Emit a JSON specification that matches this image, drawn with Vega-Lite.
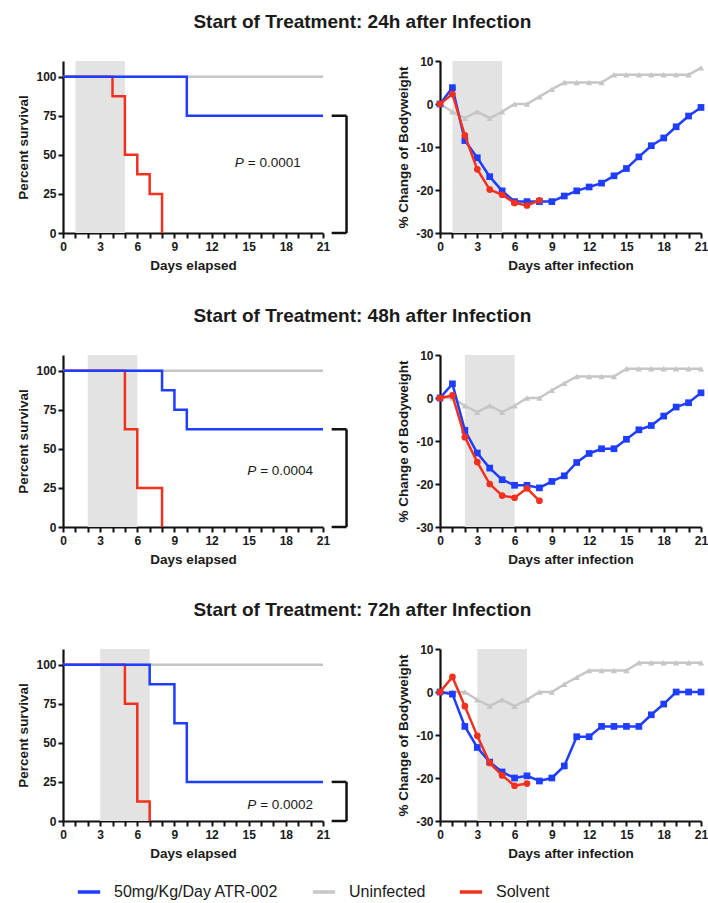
{
  "$schema": "https://vega.github.io/schema/vega-lite/v6.json",
  "padding": {"left": 16, "top": 13, "right": 2, "bottom": 5},
  "spacing": 35,
  "datasets": {
    "shade": [
      {"r": "24h", "s": 1, "e": 5},
      {"r": "48h", "s": 2, "e": 6},
      {"r": "72h", "s": 3, "e": 7}
    ],
    "brk": [
      {"r": "24h", "x": 21.7, "x2": 22.9, "y": 75, "y2": 75},
      {"r": "24h", "x": 21.7, "x2": 22.9, "y": 0, "y2": 0},
      {"r": "24h", "x": 22.9, "x2": 22.9, "y": 75, "y2": 0},
      {"r": "48h", "x": 21.7, "x2": 22.9, "y": 62.5, "y2": 62.5},
      {"r": "48h", "x": 21.7, "x2": 22.9, "y": 0, "y2": 0},
      {"r": "48h", "x": 22.9, "x2": 22.9, "y": 62.5, "y2": 0},
      {"r": "72h", "x": 21.7, "x2": 22.9, "y": 25, "y2": 25},
      {"r": "72h", "x": 21.7, "x2": 22.9, "y": 0, "y2": 0},
      {"r": "72h", "x": 22.9, "x2": 22.9, "y": 25, "y2": 0}
    ],
    "ptxt": [
      {"r": "24h", "x": 14.6, "y": 45, "t": "= 0.0001"},
      {"r": "48h", "x": 15.6, "y": 36, "t": "= 0.0004"},
      {"r": "72h", "x": 15.6, "y": 10.3, "t": "= 0.0002"}
    ],
    "surv": [
      {"r": "24h", "g": "Uninfected", "d": 0, "v": 100},
      {"r": "24h", "g": "Uninfected", "d": 21, "v": 100},
      {"r": "24h", "g": "50mg/Kg/Day ATR-002", "d": 0, "v": 100},
      {"r": "24h", "g": "50mg/Kg/Day ATR-002", "d": 10, "v": 75},
      {"r": "24h", "g": "50mg/Kg/Day ATR-002", "d": 21, "v": 75},
      {"r": "24h", "g": "Solvent", "d": 0, "v": 100},
      {"r": "24h", "g": "Solvent", "d": 4, "v": 87.5},
      {"r": "24h", "g": "Solvent", "d": 5, "v": 50},
      {"r": "24h", "g": "Solvent", "d": 6, "v": 37.5},
      {"r": "24h", "g": "Solvent", "d": 7, "v": 25},
      {"r": "24h", "g": "Solvent", "d": 8, "v": 0},
      {"r": "48h", "g": "Uninfected", "d": 0, "v": 100},
      {"r": "48h", "g": "Uninfected", "d": 21, "v": 100},
      {"r": "48h", "g": "50mg/Kg/Day ATR-002", "d": 0, "v": 100},
      {"r": "48h", "g": "50mg/Kg/Day ATR-002", "d": 8, "v": 87.5},
      {"r": "48h", "g": "50mg/Kg/Day ATR-002", "d": 9, "v": 75},
      {"r": "48h", "g": "50mg/Kg/Day ATR-002", "d": 10, "v": 62.5},
      {"r": "48h", "g": "50mg/Kg/Day ATR-002", "d": 21, "v": 62.5},
      {"r": "48h", "g": "Solvent", "d": 0, "v": 100},
      {"r": "48h", "g": "Solvent", "d": 5, "v": 62.5},
      {"r": "48h", "g": "Solvent", "d": 6, "v": 25},
      {"r": "48h", "g": "Solvent", "d": 8, "v": 0},
      {"r": "72h", "g": "Uninfected", "d": 0, "v": 100},
      {"r": "72h", "g": "Uninfected", "d": 21, "v": 100},
      {"r": "72h", "g": "50mg/Kg/Day ATR-002", "d": 0, "v": 100},
      {"r": "72h", "g": "50mg/Kg/Day ATR-002", "d": 7, "v": 87.5},
      {"r": "72h", "g": "50mg/Kg/Day ATR-002", "d": 9, "v": 62.5},
      {"r": "72h", "g": "50mg/Kg/Day ATR-002", "d": 10, "v": 25},
      {"r": "72h", "g": "50mg/Kg/Day ATR-002", "d": 21, "v": 25},
      {"r": "72h", "g": "Solvent", "d": 0, "v": 100},
      {"r": "72h", "g": "Solvent", "d": 5, "v": 75},
      {"r": "72h", "g": "Solvent", "d": 6, "v": 12.5},
      {"r": "72h", "g": "Solvent", "d": 7, "v": 0}
    ],
    "wt": [
      {"r": "24h", "g": "Uninfected", "d": 0, "v": 0},
      {"r": "24h", "g": "Uninfected", "d": 1, "v": -1.8},
      {"r": "24h", "g": "Uninfected", "d": 2, "v": -3.3},
      {"r": "24h", "g": "Uninfected", "d": 3, "v": -1.8},
      {"r": "24h", "g": "Uninfected", "d": 4, "v": -3.3},
      {"r": "24h", "g": "Uninfected", "d": 5, "v": -1.8},
      {"r": "24h", "g": "Uninfected", "d": 6, "v": 0},
      {"r": "24h", "g": "Uninfected", "d": 7, "v": 0},
      {"r": "24h", "g": "Uninfected", "d": 8, "v": 1.7},
      {"r": "24h", "g": "Uninfected", "d": 9, "v": 3.4},
      {"r": "24h", "g": "Uninfected", "d": 10, "v": 5},
      {"r": "24h", "g": "Uninfected", "d": 11, "v": 5},
      {"r": "24h", "g": "Uninfected", "d": 12, "v": 5},
      {"r": "24h", "g": "Uninfected", "d": 13, "v": 5},
      {"r": "24h", "g": "Uninfected", "d": 14, "v": 6.8},
      {"r": "24h", "g": "Uninfected", "d": 15, "v": 6.8},
      {"r": "24h", "g": "Uninfected", "d": 16, "v": 6.8},
      {"r": "24h", "g": "Uninfected", "d": 17, "v": 6.8},
      {"r": "24h", "g": "Uninfected", "d": 18, "v": 6.8},
      {"r": "24h", "g": "Uninfected", "d": 19, "v": 6.8},
      {"r": "24h", "g": "Uninfected", "d": 20, "v": 6.8},
      {"r": "24h", "g": "Uninfected", "d": 21, "v": 8.4},
      {"r": "24h", "g": "50mg/Kg/Day ATR-002", "d": 0, "v": 0},
      {"r": "24h", "g": "50mg/Kg/Day ATR-002", "d": 1, "v": 3.8},
      {"r": "24h", "g": "50mg/Kg/Day ATR-002", "d": 2, "v": -8.5},
      {"r": "24h", "g": "50mg/Kg/Day ATR-002", "d": 3, "v": -12.5},
      {"r": "24h", "g": "50mg/Kg/Day ATR-002", "d": 4, "v": -16.9},
      {"r": "24h", "g": "50mg/Kg/Day ATR-002", "d": 5, "v": -20.2},
      {"r": "24h", "g": "50mg/Kg/Day ATR-002", "d": 6, "v": -22.7},
      {"r": "24h", "g": "50mg/Kg/Day ATR-002", "d": 7, "v": -22.7},
      {"r": "24h", "g": "50mg/Kg/Day ATR-002", "d": 8, "v": -22.7},
      {"r": "24h", "g": "50mg/Kg/Day ATR-002", "d": 9, "v": -22.7},
      {"r": "24h", "g": "50mg/Kg/Day ATR-002", "d": 10, "v": -21.4},
      {"r": "24h", "g": "50mg/Kg/Day ATR-002", "d": 11, "v": -20.2},
      {"r": "24h", "g": "50mg/Kg/Day ATR-002", "d": 12, "v": -19.3},
      {"r": "24h", "g": "50mg/Kg/Day ATR-002", "d": 13, "v": -18.4},
      {"r": "24h", "g": "50mg/Kg/Day ATR-002", "d": 14, "v": -16.7},
      {"r": "24h", "g": "50mg/Kg/Day ATR-002", "d": 15, "v": -15},
      {"r": "24h", "g": "50mg/Kg/Day ATR-002", "d": 16, "v": -12.3},
      {"r": "24h", "g": "50mg/Kg/Day ATR-002", "d": 17, "v": -9.7},
      {"r": "24h", "g": "50mg/Kg/Day ATR-002", "d": 18, "v": -7.9},
      {"r": "24h", "g": "50mg/Kg/Day ATR-002", "d": 19, "v": -5.3},
      {"r": "24h", "g": "50mg/Kg/Day ATR-002", "d": 20, "v": -2.8},
      {"r": "24h", "g": "50mg/Kg/Day ATR-002", "d": 21, "v": -0.8},
      {"r": "24h", "g": "Solvent", "d": 0, "v": 0},
      {"r": "24h", "g": "Solvent", "d": 1, "v": 2.3},
      {"r": "24h", "g": "Solvent", "d": 2, "v": -7.3},
      {"r": "24h", "g": "Solvent", "d": 3, "v": -15.2},
      {"r": "24h", "g": "Solvent", "d": 4, "v": -19.9},
      {"r": "24h", "g": "Solvent", "d": 5, "v": -21.1},
      {"r": "24h", "g": "Solvent", "d": 6, "v": -23},
      {"r": "24h", "g": "Solvent", "d": 7, "v": -23.6},
      {"r": "24h", "g": "Solvent", "d": 8, "v": -22.4},
      {"r": "48h", "g": "Uninfected", "d": 0, "v": 0},
      {"r": "48h", "g": "Uninfected", "d": 1, "v": 0},
      {"r": "48h", "g": "Uninfected", "d": 2, "v": -1.8},
      {"r": "48h", "g": "Uninfected", "d": 3, "v": -3.3},
      {"r": "48h", "g": "Uninfected", "d": 4, "v": -1.8},
      {"r": "48h", "g": "Uninfected", "d": 5, "v": -3.3},
      {"r": "48h", "g": "Uninfected", "d": 6, "v": -1.8},
      {"r": "48h", "g": "Uninfected", "d": 7, "v": 0},
      {"r": "48h", "g": "Uninfected", "d": 8, "v": 0},
      {"r": "48h", "g": "Uninfected", "d": 9, "v": 1.8},
      {"r": "48h", "g": "Uninfected", "d": 10, "v": 3.4},
      {"r": "48h", "g": "Uninfected", "d": 11, "v": 5},
      {"r": "48h", "g": "Uninfected", "d": 12, "v": 5},
      {"r": "48h", "g": "Uninfected", "d": 13, "v": 5},
      {"r": "48h", "g": "Uninfected", "d": 14, "v": 5},
      {"r": "48h", "g": "Uninfected", "d": 15, "v": 6.8},
      {"r": "48h", "g": "Uninfected", "d": 16, "v": 6.8},
      {"r": "48h", "g": "Uninfected", "d": 17, "v": 6.8},
      {"r": "48h", "g": "Uninfected", "d": 18, "v": 6.8},
      {"r": "48h", "g": "Uninfected", "d": 19, "v": 6.8},
      {"r": "48h", "g": "Uninfected", "d": 20, "v": 6.8},
      {"r": "48h", "g": "Uninfected", "d": 21, "v": 6.8},
      {"r": "48h", "g": "50mg/Kg/Day ATR-002", "d": 0, "v": 0},
      {"r": "48h", "g": "50mg/Kg/Day ATR-002", "d": 1, "v": 3.3},
      {"r": "48h", "g": "50mg/Kg/Day ATR-002", "d": 2, "v": -7.5},
      {"r": "48h", "g": "50mg/Kg/Day ATR-002", "d": 3, "v": -12.8},
      {"r": "48h", "g": "50mg/Kg/Day ATR-002", "d": 4, "v": -16.3},
      {"r": "48h", "g": "50mg/Kg/Day ATR-002", "d": 5, "v": -19},
      {"r": "48h", "g": "50mg/Kg/Day ATR-002", "d": 6, "v": -20.3},
      {"r": "48h", "g": "50mg/Kg/Day ATR-002", "d": 7, "v": -20.3},
      {"r": "48h", "g": "50mg/Kg/Day ATR-002", "d": 8, "v": -20.9},
      {"r": "48h", "g": "50mg/Kg/Day ATR-002", "d": 9, "v": -19.4},
      {"r": "48h", "g": "50mg/Kg/Day ATR-002", "d": 10, "v": -18.1},
      {"r": "48h", "g": "50mg/Kg/Day ATR-002", "d": 11, "v": -15},
      {"r": "48h", "g": "50mg/Kg/Day ATR-002", "d": 12, "v": -12.9},
      {"r": "48h", "g": "50mg/Kg/Day ATR-002", "d": 13, "v": -11.8},
      {"r": "48h", "g": "50mg/Kg/Day ATR-002", "d": 14, "v": -11.8},
      {"r": "48h", "g": "50mg/Kg/Day ATR-002", "d": 15, "v": -9.6},
      {"r": "48h", "g": "50mg/Kg/Day ATR-002", "d": 16, "v": -7.4},
      {"r": "48h", "g": "50mg/Kg/Day ATR-002", "d": 17, "v": -6.4},
      {"r": "48h", "g": "50mg/Kg/Day ATR-002", "d": 18, "v": -4.2},
      {"r": "48h", "g": "50mg/Kg/Day ATR-002", "d": 19, "v": -2.1},
      {"r": "48h", "g": "50mg/Kg/Day ATR-002", "d": 20, "v": -1.1},
      {"r": "48h", "g": "50mg/Kg/Day ATR-002", "d": 21, "v": 1.2},
      {"r": "48h", "g": "Solvent", "d": 0, "v": 0},
      {"r": "48h", "g": "Solvent", "d": 1, "v": 0.6},
      {"r": "48h", "g": "Solvent", "d": 2, "v": -9.1},
      {"r": "48h", "g": "Solvent", "d": 3, "v": -14.9},
      {"r": "48h", "g": "Solvent", "d": 4, "v": -20},
      {"r": "48h", "g": "Solvent", "d": 5, "v": -22.7},
      {"r": "48h", "g": "Solvent", "d": 6, "v": -23.2},
      {"r": "48h", "g": "Solvent", "d": 7, "v": -21},
      {"r": "48h", "g": "Solvent", "d": 8, "v": -23.9},
      {"r": "72h", "g": "Uninfected", "d": 0, "v": 0},
      {"r": "72h", "g": "Uninfected", "d": 1, "v": 0},
      {"r": "72h", "g": "Uninfected", "d": 2, "v": 0},
      {"r": "72h", "g": "Uninfected", "d": 3, "v": -1.8},
      {"r": "72h", "g": "Uninfected", "d": 4, "v": -3.3},
      {"r": "72h", "g": "Uninfected", "d": 5, "v": -1.8},
      {"r": "72h", "g": "Uninfected", "d": 6, "v": -3.3},
      {"r": "72h", "g": "Uninfected", "d": 7, "v": -1.8},
      {"r": "72h", "g": "Uninfected", "d": 8, "v": 0},
      {"r": "72h", "g": "Uninfected", "d": 9, "v": 0},
      {"r": "72h", "g": "Uninfected", "d": 10, "v": 1.8},
      {"r": "72h", "g": "Uninfected", "d": 11, "v": 3.4},
      {"r": "72h", "g": "Uninfected", "d": 12, "v": 5},
      {"r": "72h", "g": "Uninfected", "d": 13, "v": 5},
      {"r": "72h", "g": "Uninfected", "d": 14, "v": 5},
      {"r": "72h", "g": "Uninfected", "d": 15, "v": 5},
      {"r": "72h", "g": "Uninfected", "d": 16, "v": 6.8},
      {"r": "72h", "g": "Uninfected", "d": 17, "v": 6.8},
      {"r": "72h", "g": "Uninfected", "d": 18, "v": 6.8},
      {"r": "72h", "g": "Uninfected", "d": 19, "v": 6.8},
      {"r": "72h", "g": "Uninfected", "d": 20, "v": 6.8},
      {"r": "72h", "g": "Uninfected", "d": 21, "v": 6.8},
      {"r": "72h", "g": "50mg/Kg/Day ATR-002", "d": 0, "v": 0},
      {"r": "72h", "g": "50mg/Kg/Day ATR-002", "d": 1, "v": -0.5},
      {"r": "72h", "g": "50mg/Kg/Day ATR-002", "d": 2, "v": -8},
      {"r": "72h", "g": "50mg/Kg/Day ATR-002", "d": 3, "v": -12.9},
      {"r": "72h", "g": "50mg/Kg/Day ATR-002", "d": 4, "v": -16.3},
      {"r": "72h", "g": "50mg/Kg/Day ATR-002", "d": 5, "v": -18.6},
      {"r": "72h", "g": "50mg/Kg/Day ATR-002", "d": 6, "v": -20},
      {"r": "72h", "g": "50mg/Kg/Day ATR-002", "d": 7, "v": -19.5},
      {"r": "72h", "g": "50mg/Kg/Day ATR-002", "d": 8, "v": -20.7},
      {"r": "72h", "g": "50mg/Kg/Day ATR-002", "d": 9, "v": -20},
      {"r": "72h", "g": "50mg/Kg/Day ATR-002", "d": 10, "v": -17.2},
      {"r": "72h", "g": "50mg/Kg/Day ATR-002", "d": 11, "v": -10.4},
      {"r": "72h", "g": "50mg/Kg/Day ATR-002", "d": 12, "v": -10.4},
      {"r": "72h", "g": "50mg/Kg/Day ATR-002", "d": 13, "v": -8},
      {"r": "72h", "g": "50mg/Kg/Day ATR-002", "d": 14, "v": -8},
      {"r": "72h", "g": "50mg/Kg/Day ATR-002", "d": 15, "v": -8},
      {"r": "72h", "g": "50mg/Kg/Day ATR-002", "d": 16, "v": -8},
      {"r": "72h", "g": "50mg/Kg/Day ATR-002", "d": 17, "v": -5.3},
      {"r": "72h", "g": "50mg/Kg/Day ATR-002", "d": 18, "v": -2.8},
      {"r": "72h", "g": "50mg/Kg/Day ATR-002", "d": 19, "v": 0},
      {"r": "72h", "g": "50mg/Kg/Day ATR-002", "d": 20, "v": 0},
      {"r": "72h", "g": "50mg/Kg/Day ATR-002", "d": 21, "v": 0},
      {"r": "72h", "g": "Solvent", "d": 0, "v": 0},
      {"r": "72h", "g": "Solvent", "d": 1, "v": 3.5},
      {"r": "72h", "g": "Solvent", "d": 2, "v": -3.3},
      {"r": "72h", "g": "Solvent", "d": 3, "v": -10.2},
      {"r": "72h", "g": "Solvent", "d": 4, "v": -16.5},
      {"r": "72h", "g": "Solvent", "d": 5, "v": -19.4},
      {"r": "72h", "g": "Solvent", "d": 6, "v": -21.8},
      {"r": "72h", "g": "Solvent", "d": 7, "v": -21.3}
    ]
  },
  "vconcat": [
    {
      "title": {"text": "Start of Treatment: 24h after Infection"},
      "bounds": "flush",
      "spacing": 117,
      "hconcat": [
        {
          "width": 260, "height": 172,
          "layer": [
            {"data": {"name": "shade"}, "transform": [{"filter": "datum.r == '24h'"}],
             "mark": {"type": "rect", "color": "#e3e3e3"},
             "encoding": {"x": {"field": "s", "type": "quantitative", "scale": {"domain": [0, 21], "nice": false, "zero": false},
               "axis": {"title": "Days elapsed", "values": [0,1,2,3,4,5,6,7,8,9,10,11,12,13,14,15,16,17,18,19,20,21], "tickCount": 30, "labelOverlap": false, "labelExpr": "datum.value % 3 == 0 ? toString(datum.value) : ''"}},
               "x2": {"field": "e"}}},
            {"data": {"name": "surv"}, "transform": [{"filter": "datum.r == '24h' && datum.g == 'Uninfected'"}],
             "mark": {"type": "line", "interpolate": "step-after", "strokeWidth": 2.5},
             "encoding": {"x": {"field": "d", "type": "quantitative"},
               "y": {"field": "v", "type": "quantitative", "scale": {"domain": [0, 110], "nice": false}, "axis": {"title": "Percent survival", "values": [0, 25, 50, 75, 100]}},
               "color": {"field": "g", "type": "nominal", "scale": {"domain": ["50mg/Kg/Day ATR-002", "Uninfected", "Solvent"], "range": ["#1f3dff", "#c6c6c6", "#f2301e"]}, "legend": {"title": null}}}},
            {"data": {"name": "surv"}, "transform": [{"filter": "datum.r == '24h' && datum.g == 'Solvent'"}],
             "mark": {"type": "line", "interpolate": "step-after", "strokeWidth": 2.5},
             "encoding": {"x": {"field": "d", "type": "quantitative"}, "y": {"field": "v", "type": "quantitative"},
               "color": {"field": "g", "type": "nominal", "scale": {"domain": ["50mg/Kg/Day ATR-002", "Uninfected", "Solvent"], "range": ["#1f3dff", "#c6c6c6", "#f2301e"]}, "legend": {"title": null}}}},
            {"data": {"name": "surv"}, "transform": [{"filter": "datum.r == '24h' && datum.g == '50mg/Kg/Day ATR-002'"}],
             "mark": {"type": "line", "interpolate": "step-after", "strokeWidth": 2.5},
             "encoding": {"x": {"field": "d", "type": "quantitative"}, "y": {"field": "v", "type": "quantitative"},
               "color": {"field": "g", "type": "nominal", "scale": {"domain": ["50mg/Kg/Day ATR-002", "Uninfected", "Solvent"], "range": ["#1f3dff", "#c6c6c6", "#f2301e"]}, "legend": {"title": null}}}},
            {"data": {"name": "brk"}, "transform": [{"filter": "datum.r == '24h'"}],
             "mark": {"type": "rule", "strokeWidth": 2.5, "color": "#111111"},
             "encoding": {"x": {"field": "x", "type": "quantitative"}, "x2": {"field": "x2"}, "y": {"field": "y", "type": "quantitative"}, "y2": {"field": "y2"}}},
            {"data": {"name": "ptxt"}, "transform": [{"filter": "datum.r == '24h'"}],
             "mark": {"type": "text", "text": "P", "fontStyle": "italic", "align": "right", "baseline": "middle", "fontSize": 13.5, "color": "#1a1a1a"},
             "encoding": {"x": {"field": "x", "type": "quantitative"}, "y": {"field": "y", "type": "quantitative"}}},
            {"data": {"name": "ptxt"}, "transform": [{"filter": "datum.r == '24h'"}],
             "mark": {"type": "text", "align": "left", "baseline": "middle", "dx": 4, "fontSize": 13.5, "color": "#1a1a1a"},
             "encoding": {"x": {"field": "x", "type": "quantitative"}, "y": {"field": "y", "type": "quantitative"}, "text": {"field": "t"}}}
          ]
        },
        {
          "width": 261, "height": 172,
          "layer": [
            {"data": {"name": "shade"}, "transform": [{"filter": "datum.r == '24h'"}],
             "mark": {"type": "rect", "color": "#e3e3e3"},
             "encoding": {"x": {"field": "s", "type": "quantitative", "scale": {"domain": [0, 21], "nice": false, "zero": false},
               "axis": {"title": "Days after infection", "values": [0,1,2,3,4,5,6,7,8,9,10,11,12,13,14,15,16,17,18,19,20,21], "tickCount": 30, "labelOverlap": false, "labelExpr": "datum.value % 3 == 0 ? toString(datum.value) : ''"}},
               "x2": {"field": "e"}}},
            {"mark": {"type": "rule", "strokeDash": [2, 2], "strokeWidth": 1.5, "color": "#111111"},
             "encoding": {"x": {"datum": 0}, "x2": {"datum": 21}, "y": {"datum": -20}}},
            {"data": {"name": "wt"}, "transform": [{"filter": "datum.r == '24h' && datum.g == 'Uninfected'"}],
             "mark": {"type": "line", "strokeWidth": 2.5},
             "encoding": {"x": {"field": "d", "type": "quantitative"},
               "y": {"field": "v", "type": "quantitative", "scale": {"domain": [-30, 10], "nice": false}, "axis": {"title": "% Change of Bodyweight", "values": [-30, -20, -10, 0, 10], "labelExpr": "toString(datum.value)"}},
               "color": {"field": "g", "type": "nominal", "scale": {"domain": ["50mg/Kg/Day ATR-002", "Uninfected", "Solvent"], "range": ["#1f3dff", "#c6c6c6", "#f2301e"]}, "legend": {"title": null}}}},
            {"data": {"name": "wt"}, "transform": [{"filter": "datum.r == '24h' && datum.g == 'Uninfected'"}],
             "mark": {"type": "point", "shape": "triangle-up", "filled": true, "size": 40, "opacity": 1, "color": "#c6c6c6"},
             "encoding": {"x": {"field": "d", "type": "quantitative"}, "y": {"field": "v", "type": "quantitative"}}},
            {"data": {"name": "wt"}, "transform": [{"filter": "datum.r == '24h' && datum.g == '50mg/Kg/Day ATR-002'"}],
             "mark": {"type": "line", "strokeWidth": 2.5},
             "encoding": {"x": {"field": "d", "type": "quantitative"}, "y": {"field": "v", "type": "quantitative"},
               "color": {"field": "g", "type": "nominal", "scale": {"domain": ["50mg/Kg/Day ATR-002", "Uninfected", "Solvent"], "range": ["#1f3dff", "#c6c6c6", "#f2301e"]}, "legend": {"title": null}}}},
            {"data": {"name": "wt"}, "transform": [{"filter": "datum.r == '24h' && datum.g == '50mg/Kg/Day ATR-002'"}],
             "mark": {"type": "point", "shape": "square", "filled": true, "size": 45, "opacity": 1, "color": "#1f3dff"},
             "encoding": {"x": {"field": "d", "type": "quantitative"}, "y": {"field": "v", "type": "quantitative"}}},
            {"data": {"name": "wt"}, "transform": [{"filter": "datum.r == '24h' && datum.g == 'Solvent'"}],
             "mark": {"type": "line", "strokeWidth": 2.5},
             "encoding": {"x": {"field": "d", "type": "quantitative"}, "y": {"field": "v", "type": "quantitative"},
               "color": {"field": "g", "type": "nominal", "scale": {"domain": ["50mg/Kg/Day ATR-002", "Uninfected", "Solvent"], "range": ["#1f3dff", "#c6c6c6", "#f2301e"]}, "legend": {"title": null}}}},
            {"data": {"name": "wt"}, "transform": [{"filter": "datum.r == '24h' && datum.g == 'Solvent'"}],
             "mark": {"type": "point", "shape": "circle", "filled": true, "size": 45, "opacity": 1, "color": "#f2301e"},
             "encoding": {"x": {"field": "d", "type": "quantitative"}, "y": {"field": "v", "type": "quantitative"}}}
          ]
        }
      ]
    },
    {
      "title": {"text": "Start of Treatment: 48h after Infection"},
      "bounds": "flush",
      "spacing": 117,
      "hconcat": [
        {
          "width": 260, "height": 172,
          "layer": [
            {"data": {"name": "shade"}, "transform": [{"filter": "datum.r == '48h'"}],
             "mark": {"type": "rect", "color": "#e3e3e3"},
             "encoding": {"x": {"field": "s", "type": "quantitative", "scale": {"domain": [0, 21], "nice": false, "zero": false},
               "axis": {"title": "Days elapsed", "values": [0,1,2,3,4,5,6,7,8,9,10,11,12,13,14,15,16,17,18,19,20,21], "tickCount": 30, "labelOverlap": false, "labelExpr": "datum.value % 3 == 0 ? toString(datum.value) : ''"}},
               "x2": {"field": "e"}}},
            {"data": {"name": "surv"}, "transform": [{"filter": "datum.r == '48h' && datum.g == 'Uninfected'"}],
             "mark": {"type": "line", "interpolate": "step-after", "strokeWidth": 2.5},
             "encoding": {"x": {"field": "d", "type": "quantitative"},
               "y": {"field": "v", "type": "quantitative", "scale": {"domain": [0, 110], "nice": false}, "axis": {"title": "Percent survival", "values": [0, 25, 50, 75, 100]}},
               "color": {"field": "g", "type": "nominal", "scale": {"domain": ["50mg/Kg/Day ATR-002", "Uninfected", "Solvent"], "range": ["#1f3dff", "#c6c6c6", "#f2301e"]}, "legend": {"title": null}}}},
            {"data": {"name": "surv"}, "transform": [{"filter": "datum.r == '48h' && datum.g == 'Solvent'"}],
             "mark": {"type": "line", "interpolate": "step-after", "strokeWidth": 2.5},
             "encoding": {"x": {"field": "d", "type": "quantitative"}, "y": {"field": "v", "type": "quantitative"},
               "color": {"field": "g", "type": "nominal", "scale": {"domain": ["50mg/Kg/Day ATR-002", "Uninfected", "Solvent"], "range": ["#1f3dff", "#c6c6c6", "#f2301e"]}, "legend": {"title": null}}}},
            {"data": {"name": "surv"}, "transform": [{"filter": "datum.r == '48h' && datum.g == '50mg/Kg/Day ATR-002'"}],
             "mark": {"type": "line", "interpolate": "step-after", "strokeWidth": 2.5},
             "encoding": {"x": {"field": "d", "type": "quantitative"}, "y": {"field": "v", "type": "quantitative"},
               "color": {"field": "g", "type": "nominal", "scale": {"domain": ["50mg/Kg/Day ATR-002", "Uninfected", "Solvent"], "range": ["#1f3dff", "#c6c6c6", "#f2301e"]}, "legend": {"title": null}}}},
            {"data": {"name": "brk"}, "transform": [{"filter": "datum.r == '48h'"}],
             "mark": {"type": "rule", "strokeWidth": 2.5, "color": "#111111"},
             "encoding": {"x": {"field": "x", "type": "quantitative"}, "x2": {"field": "x2"}, "y": {"field": "y", "type": "quantitative"}, "y2": {"field": "y2"}}},
            {"data": {"name": "ptxt"}, "transform": [{"filter": "datum.r == '48h'"}],
             "mark": {"type": "text", "text": "P", "fontStyle": "italic", "align": "right", "baseline": "middle", "fontSize": 13.5, "color": "#1a1a1a"},
             "encoding": {"x": {"field": "x", "type": "quantitative"}, "y": {"field": "y", "type": "quantitative"}}},
            {"data": {"name": "ptxt"}, "transform": [{"filter": "datum.r == '48h'"}],
             "mark": {"type": "text", "align": "left", "baseline": "middle", "dx": 4, "fontSize": 13.5, "color": "#1a1a1a"},
             "encoding": {"x": {"field": "x", "type": "quantitative"}, "y": {"field": "y", "type": "quantitative"}, "text": {"field": "t"}}}
          ]
        },
        {
          "width": 261, "height": 172,
          "layer": [
            {"data": {"name": "shade"}, "transform": [{"filter": "datum.r == '48h'"}],
             "mark": {"type": "rect", "color": "#e3e3e3"},
             "encoding": {"x": {"field": "s", "type": "quantitative", "scale": {"domain": [0, 21], "nice": false, "zero": false},
               "axis": {"title": "Days after infection", "values": [0,1,2,3,4,5,6,7,8,9,10,11,12,13,14,15,16,17,18,19,20,21], "tickCount": 30, "labelOverlap": false, "labelExpr": "datum.value % 3 == 0 ? toString(datum.value) : ''"}},
               "x2": {"field": "e"}}},
            {"mark": {"type": "rule", "strokeDash": [2, 2], "strokeWidth": 1.5, "color": "#111111"},
             "encoding": {"x": {"datum": 0}, "x2": {"datum": 21}, "y": {"datum": -20}}},
            {"data": {"name": "wt"}, "transform": [{"filter": "datum.r == '48h' && datum.g == 'Uninfected'"}],
             "mark": {"type": "line", "strokeWidth": 2.5},
             "encoding": {"x": {"field": "d", "type": "quantitative"},
               "y": {"field": "v", "type": "quantitative", "scale": {"domain": [-30, 10], "nice": false}, "axis": {"title": "% Change of Bodyweight", "values": [-30, -20, -10, 0, 10], "labelExpr": "toString(datum.value)"}},
               "color": {"field": "g", "type": "nominal", "scale": {"domain": ["50mg/Kg/Day ATR-002", "Uninfected", "Solvent"], "range": ["#1f3dff", "#c6c6c6", "#f2301e"]}, "legend": {"title": null}}}},
            {"data": {"name": "wt"}, "transform": [{"filter": "datum.r == '48h' && datum.g == 'Uninfected'"}],
             "mark": {"type": "point", "shape": "triangle-up", "filled": true, "size": 40, "opacity": 1, "color": "#c6c6c6"},
             "encoding": {"x": {"field": "d", "type": "quantitative"}, "y": {"field": "v", "type": "quantitative"}}},
            {"data": {"name": "wt"}, "transform": [{"filter": "datum.r == '48h' && datum.g == '50mg/Kg/Day ATR-002'"}],
             "mark": {"type": "line", "strokeWidth": 2.5},
             "encoding": {"x": {"field": "d", "type": "quantitative"}, "y": {"field": "v", "type": "quantitative"},
               "color": {"field": "g", "type": "nominal", "scale": {"domain": ["50mg/Kg/Day ATR-002", "Uninfected", "Solvent"], "range": ["#1f3dff", "#c6c6c6", "#f2301e"]}, "legend": {"title": null}}}},
            {"data": {"name": "wt"}, "transform": [{"filter": "datum.r == '48h' && datum.g == '50mg/Kg/Day ATR-002'"}],
             "mark": {"type": "point", "shape": "square", "filled": true, "size": 45, "opacity": 1, "color": "#1f3dff"},
             "encoding": {"x": {"field": "d", "type": "quantitative"}, "y": {"field": "v", "type": "quantitative"}}},
            {"data": {"name": "wt"}, "transform": [{"filter": "datum.r == '48h' && datum.g == 'Solvent'"}],
             "mark": {"type": "line", "strokeWidth": 2.5},
             "encoding": {"x": {"field": "d", "type": "quantitative"}, "y": {"field": "v", "type": "quantitative"},
               "color": {"field": "g", "type": "nominal", "scale": {"domain": ["50mg/Kg/Day ATR-002", "Uninfected", "Solvent"], "range": ["#1f3dff", "#c6c6c6", "#f2301e"]}, "legend": {"title": null}}}},
            {"data": {"name": "wt"}, "transform": [{"filter": "datum.r == '48h' && datum.g == 'Solvent'"}],
             "mark": {"type": "point", "shape": "circle", "filled": true, "size": 45, "opacity": 1, "color": "#f2301e"},
             "encoding": {"x": {"field": "d", "type": "quantitative"}, "y": {"field": "v", "type": "quantitative"}}}
          ]
        }
      ]
    },
    {
      "title": {"text": "Start of Treatment: 72h after Infection"},
      "bounds": "flush",
      "spacing": 117,
      "hconcat": [
        {
          "width": 260, "height": 172,
          "layer": [
            {"data": {"name": "shade"}, "transform": [{"filter": "datum.r == '72h'"}],
             "mark": {"type": "rect", "color": "#e3e3e3"},
             "encoding": {"x": {"field": "s", "type": "quantitative", "scale": {"domain": [0, 21], "nice": false, "zero": false},
               "axis": {"title": "Days elapsed", "values": [0,1,2,3,4,5,6,7,8,9,10,11,12,13,14,15,16,17,18,19,20,21], "tickCount": 30, "labelOverlap": false, "labelExpr": "datum.value % 3 == 0 ? toString(datum.value) : ''"}},
               "x2": {"field": "e"}}},
            {"data": {"name": "surv"}, "transform": [{"filter": "datum.r == '72h' && datum.g == 'Uninfected'"}],
             "mark": {"type": "line", "interpolate": "step-after", "strokeWidth": 2.5},
             "encoding": {"x": {"field": "d", "type": "quantitative"},
               "y": {"field": "v", "type": "quantitative", "scale": {"domain": [0, 110], "nice": false}, "axis": {"title": "Percent survival", "values": [0, 25, 50, 75, 100]}},
               "color": {"field": "g", "type": "nominal", "scale": {"domain": ["50mg/Kg/Day ATR-002", "Uninfected", "Solvent"], "range": ["#1f3dff", "#c6c6c6", "#f2301e"]}, "legend": {"title": null}}}},
            {"data": {"name": "surv"}, "transform": [{"filter": "datum.r == '72h' && datum.g == 'Solvent'"}],
             "mark": {"type": "line", "interpolate": "step-after", "strokeWidth": 2.5},
             "encoding": {"x": {"field": "d", "type": "quantitative"}, "y": {"field": "v", "type": "quantitative"},
               "color": {"field": "g", "type": "nominal", "scale": {"domain": ["50mg/Kg/Day ATR-002", "Uninfected", "Solvent"], "range": ["#1f3dff", "#c6c6c6", "#f2301e"]}, "legend": {"title": null}}}},
            {"data": {"name": "surv"}, "transform": [{"filter": "datum.r == '72h' && datum.g == '50mg/Kg/Day ATR-002'"}],
             "mark": {"type": "line", "interpolate": "step-after", "strokeWidth": 2.5},
             "encoding": {"x": {"field": "d", "type": "quantitative"}, "y": {"field": "v", "type": "quantitative"},
               "color": {"field": "g", "type": "nominal", "scale": {"domain": ["50mg/Kg/Day ATR-002", "Uninfected", "Solvent"], "range": ["#1f3dff", "#c6c6c6", "#f2301e"]}, "legend": {"title": null}}}},
            {"data": {"name": "brk"}, "transform": [{"filter": "datum.r == '72h'"}],
             "mark": {"type": "rule", "strokeWidth": 2.5, "color": "#111111"},
             "encoding": {"x": {"field": "x", "type": "quantitative"}, "x2": {"field": "x2"}, "y": {"field": "y", "type": "quantitative"}, "y2": {"field": "y2"}}},
            {"data": {"name": "ptxt"}, "transform": [{"filter": "datum.r == '72h'"}],
             "mark": {"type": "text", "text": "P", "fontStyle": "italic", "align": "right", "baseline": "middle", "fontSize": 13.5, "color": "#1a1a1a"},
             "encoding": {"x": {"field": "x", "type": "quantitative"}, "y": {"field": "y", "type": "quantitative"}}},
            {"data": {"name": "ptxt"}, "transform": [{"filter": "datum.r == '72h'"}],
             "mark": {"type": "text", "align": "left", "baseline": "middle", "dx": 4, "fontSize": 13.5, "color": "#1a1a1a"},
             "encoding": {"x": {"field": "x", "type": "quantitative"}, "y": {"field": "y", "type": "quantitative"}, "text": {"field": "t"}}}
          ]
        },
        {
          "width": 261, "height": 172,
          "layer": [
            {"data": {"name": "shade"}, "transform": [{"filter": "datum.r == '72h'"}],
             "mark": {"type": "rect", "color": "#e3e3e3"},
             "encoding": {"x": {"field": "s", "type": "quantitative", "scale": {"domain": [0, 21], "nice": false, "zero": false},
               "axis": {"title": "Days after infection", "values": [0,1,2,3,4,5,6,7,8,9,10,11,12,13,14,15,16,17,18,19,20,21], "tickCount": 30, "labelOverlap": false, "labelExpr": "datum.value % 3 == 0 ? toString(datum.value) : ''"}},
               "x2": {"field": "e"}}},
            {"mark": {"type": "rule", "strokeDash": [2, 2], "strokeWidth": 1.5, "color": "#111111"},
             "encoding": {"x": {"datum": 0}, "x2": {"datum": 21}, "y": {"datum": -20}}},
            {"data": {"name": "wt"}, "transform": [{"filter": "datum.r == '72h' && datum.g == 'Uninfected'"}],
             "mark": {"type": "line", "strokeWidth": 2.5},
             "encoding": {"x": {"field": "d", "type": "quantitative"},
               "y": {"field": "v", "type": "quantitative", "scale": {"domain": [-30, 10], "nice": false}, "axis": {"title": "% Change of Bodyweight", "values": [-30, -20, -10, 0, 10], "labelExpr": "toString(datum.value)"}},
               "color": {"field": "g", "type": "nominal", "scale": {"domain": ["50mg/Kg/Day ATR-002", "Uninfected", "Solvent"], "range": ["#1f3dff", "#c6c6c6", "#f2301e"]}, "legend": {"title": null}}}},
            {"data": {"name": "wt"}, "transform": [{"filter": "datum.r == '72h' && datum.g == 'Uninfected'"}],
             "mark": {"type": "point", "shape": "triangle-up", "filled": true, "size": 40, "opacity": 1, "color": "#c6c6c6"},
             "encoding": {"x": {"field": "d", "type": "quantitative"}, "y": {"field": "v", "type": "quantitative"}}},
            {"data": {"name": "wt"}, "transform": [{"filter": "datum.r == '72h' && datum.g == '50mg/Kg/Day ATR-002'"}],
             "mark": {"type": "line", "strokeWidth": 2.5},
             "encoding": {"x": {"field": "d", "type": "quantitative"}, "y": {"field": "v", "type": "quantitative"},
               "color": {"field": "g", "type": "nominal", "scale": {"domain": ["50mg/Kg/Day ATR-002", "Uninfected", "Solvent"], "range": ["#1f3dff", "#c6c6c6", "#f2301e"]}, "legend": {"title": null}}}},
            {"data": {"name": "wt"}, "transform": [{"filter": "datum.r == '72h' && datum.g == '50mg/Kg/Day ATR-002'"}],
             "mark": {"type": "point", "shape": "square", "filled": true, "size": 45, "opacity": 1, "color": "#1f3dff"},
             "encoding": {"x": {"field": "d", "type": "quantitative"}, "y": {"field": "v", "type": "quantitative"}}},
            {"data": {"name": "wt"}, "transform": [{"filter": "datum.r == '72h' && datum.g == 'Solvent'"}],
             "mark": {"type": "line", "strokeWidth": 2.5},
             "encoding": {"x": {"field": "d", "type": "quantitative"}, "y": {"field": "v", "type": "quantitative"},
               "color": {"field": "g", "type": "nominal", "scale": {"domain": ["50mg/Kg/Day ATR-002", "Uninfected", "Solvent"], "range": ["#1f3dff", "#c6c6c6", "#f2301e"]}, "legend": {"title": null}}}},
            {"data": {"name": "wt"}, "transform": [{"filter": "datum.r == '72h' && datum.g == 'Solvent'"}],
             "mark": {"type": "point", "shape": "circle", "filled": true, "size": 45, "opacity": 1, "color": "#f2301e"},
             "encoding": {"x": {"field": "d", "type": "quantitative"}, "y": {"field": "v", "type": "quantitative"}}}
          ]
        }
      ]
    }
  ],
  "config": {
    "font": "Liberation Sans",
    "view": {"stroke": null},
    "title": {"fontSize": 19, "fontWeight": "bold", "color": "#1a1a1a", "anchor": "middle", "offset": 23},
    "axis": {"grid": false, "domainColor": "#111111", "domainWidth": 2.2, "tickColor": "#111111", "tickWidth": 2, "tickSize": 5,
      "labelFontWeight": "bold", "labelFontSize": 12, "labelColor": "#1a1a1a", "labelPadding": 2, "labelOverlap": false, "labelFlush": false,
      "titleFontWeight": "bold", "titleFontSize": 13.5, "titleColor": "#1a1a1a", "titlePadding": 5},
    "axisX": {"labelPadding": 3, "titlePadding": 6},
    "legend": {"orient": "bottom", "direction": "horizontal", "symbolType": "stroke", "symbolStrokeWidth": 3.5, "symbolSize": 500,
      "labelFontSize": 16, "labelColor": "#1a1a1a", "labelLimit": 400, "columnPadding": 26, "labelOffset": 12, "offset": 6, "padding": 13}
  }
}
